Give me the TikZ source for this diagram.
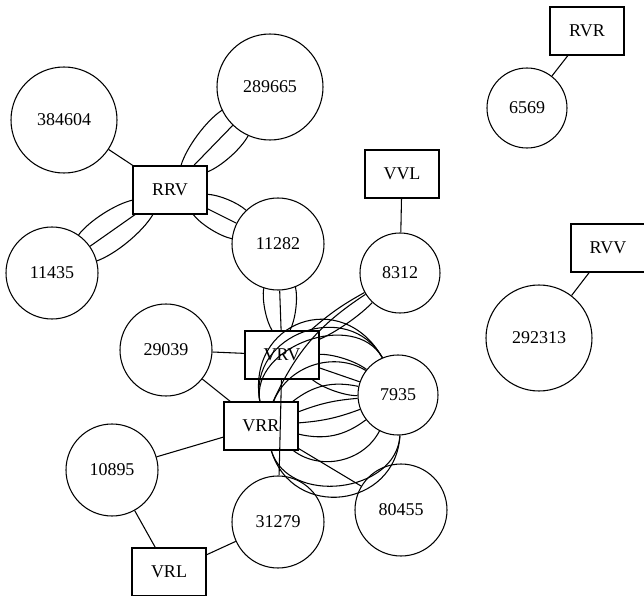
\documentclass[tikz,border=0pt]{standalone}
\usepackage{fontspec}
\setmainfont{Liberation Serif}
\usetikzlibrary{positioning}

\begin{document}
\begin{tikzpicture}[x=0.75pt, y=-0.75pt, line width=0.8pt,
  vert/.style={draw, circle, inner sep=0pt, font=\fontsize{13.5}{16}\selectfont},
  big/.style={vert, minimum size=79.5pt},
  mid/.style={vert, minimum size=69pt},
  small/.style={vert, minimum size=60pt},
  lbox/.style={draw, rectangle, minimum width=55.5pt, minimum height=36pt, inner sep=0pt, font=\fontsize{13.5}{16}\selectfont}]
\useasboundingbox (0,0) rectangle (644,596);
% box nodes
\node[lbox] (rvr) at (587,31)  {RVR};
\node[lbox] (rrv) at (170,190) {RRV};
\node[lbox] (vvl) at (402,174) {VVL};
\node[lbox] (rvv) at (608,248) {RVV};
\node[lbox] (vrv) at (282,355) {VRV};
\node[lbox] (vrr) at (261,426) {VRR};
\node[lbox] (vrl) at (169,572) {VRL};
% circle nodes
\node[small] (c6569)   at (527,108) {6569};
\node[big]   (c384604) at (64,120)  {384604};
\node[big]   (c289665) at (270,87)  {289665};
\node[mid]   (c11435)  at (52,273)  {11435};
\node[mid]   (c11282)  at (278,244) {11282};
\node[small] (c8312)   at (400,273) {8312};
\node[big]   (c292313) at (539,338) {292313};
\node[mid]   (c29039)  at (166,350) {29039};
\node[small] (c7935)   at (398,395) {7935};
\node[mid]   (c10895)  at (112,470) {10895};
\node[mid]   (c31279)  at (278,522) {31279};
\node[mid]   (c80455)  at (401,510) {80455};
% single links
\draw (rvr) -- (c6569);
\draw (rvv) -- (c292313);
\draw (vvl) -- (c8312);
\draw (rrv) -- (c384604);
\draw (c29039) -- (vrv);
\draw (c29039) -- (vrr);
\draw (c10895) -- (vrr);
\draw (c10895) -- (vrl);
\draw (vrl) -- (c31279);
\draw (vrv) -- (c31279);
\draw (vrr) -- (c80455);
% triple links
\foreach \a/\b in {rrv/c289665, rrv/c11435, rrv/c11282, c11282/vrv, vrv/c7935} {
  \draw (\a) to[bend left=20, looseness=0.7] (\b);
  \draw (\a) -- (\b);
  \draw (\a) to[bend right=20, looseness=0.7] (\b);
}
\draw (c8312) to[bend left=12, looseness=0.7] (vrv);
\draw (c8312) to[bend right=6] (vrv);
\draw (c8312) to[bend right=16] (vrr);
% bundle VRR -- 7935
\foreach \l in {1.6, 1.35, 1.1} {
  \draw (vrr) to[bend left=80, looseness=\l] (c7935);
}
\foreach \s/\b in {left/50, left/25, left/8, right/8, right/25, right/50} {
  \draw (vrr) to[bend \s=\b] (c7935);
}
\draw (vrr) to[bend right=80, looseness=1.45] (c7935);
\draw (vrr) to[bend right=80, looseness=1.15] (c7935);
\end{tikzpicture}
\end{document}
